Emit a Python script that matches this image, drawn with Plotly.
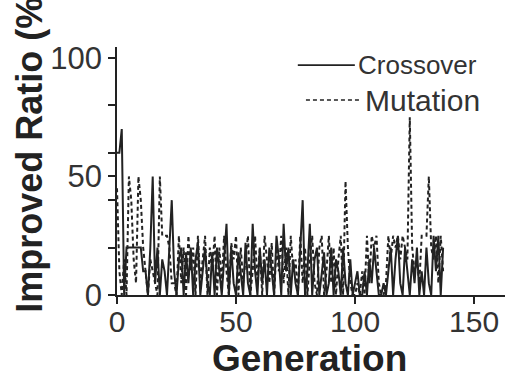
import plotly.graph_objects as go

generations = list(range(138))

crossover = [
    60, 60, 70, 0, 20, 20, 20, 20, 20, 20,
    20, 10, 10, 0, 20, 50, 5, 20, 0, 15,
    10, 0, 20, 40, 10, 0, 15, 20, 0, 18,
    5, 20, 0, 15, 22, 0, 10, 20, 5, 0,
    18, 0, 20, 10, 0, 15, 30, 0, 20, 5,
    0, 18, 10, 0, 22, 5, 0, 30, 10, 0,
    20, 5, 15, 0, 20, 10, 0, 25, 15, 0,
    30, 10, 20, 0, 15, 5, 0, 20, 40, 0,
    10, 30, 0, 15, 20, 0, 10, 18, 0, 5,
    20, 0, 15, 10, 0, 20, 5, 0, 15, 0,
    5, 10, 0, 0, 10, 0, 15, 5, 20, 10,
    0, 0, 5, 0, 10, 20, 0, 15, 25, 5,
    0, 20, 10, 0, 15, 5, 20, 0, 10, 0,
    20, 5, 0, 25, 10, 25, 0, 20,
]

mutation = [
    45, 10, 0, 15, 0, 50, 40, 15, 5, 50,
    40, 20, 10, 0, 15, 10, 5, 0, 50, 25,
    25, 25, 20, 5, 5, 0, 25, 5, 20, 0,
    25, 10, 20, 0, 25, 5, 15, 25, 0, 20,
    10, 25, 0, 20, 5, 25, 10, 0, 22, 15,
    25, 0, 20, 5, 15, 25, 0, 10, 25, 5,
    20, 0, 25, 15, 5, 22, 0, 20, 10, 25,
    5, 20, 0, 25, 10, 15, 0, 25, 5, 20,
    0, 15, 25, 5, 0, 20, 25, 0, 10, 25,
    5, 20, 0, 15, 25, 0, 48, 20, 5, 0,
    0, 5, 0, 10, 0, 25, 5, 25, 20, 25,
    5, 0, 0, 5, 25, 15, 25, 20, 25, 15,
    25, 20, 15, 75, 20, 10, 15, 5, 25, 25,
    25, 50, 20, 15, 25, 5, 25, 10,
]

x_ticks = [0, 50, 100, 150]
y_ticks = [0, 20, 40, 50, 60, 80, 100]
y_ticktext = ["0", "", "", "50", "", "", "100"]

ink = "#222222"
FONT = "Liberation Sans, Arial, sans-serif"

fig = go.Figure()
fig.add_trace(go.Scatter(x=generations, y=mutation, mode="lines",
                         line=dict(color=ink, width=2, dash="4px,3px"),
                         name="Mutation", showlegend=False))
fig.add_trace(go.Scatter(x=generations, y=crossover, mode="lines",
                         line=dict(color=ink, width=2),
                         name="Crossover", showlegend=False))

fig.update_layout(
    width=506, height=380,
    margin=dict(l=117, r=1, t=47, b=85),
    paper_bgcolor="white", plot_bgcolor="white",
    font=dict(family=FONT, color="#333333"),
    xaxis=dict(range=[0, 163], tickvals=x_ticks, ticks="outside", ticklen=7,
               tickwidth=1.5, tickcolor=ink, showline=True, linecolor=ink,
               linewidth=1.5, showgrid=False, zeroline=False, automargin=False,
               ticklabelstandoff=-8,
               tickfont=dict(size=30, color="#333333")),
    yaxis=dict(range=[0, 104.6], tickvals=y_ticks, ticktext=y_ticktext,
               ticks="outside", ticklen=7, tickwidth=1.5, tickcolor=ink,
               showline=True, linecolor=ink, linewidth=1.5, showgrid=False,
               zeroline=False, automargin=False,
               tickfont=dict(size=31, color="#333333")),
)

# axis titles
fig.add_annotation(text="<b>Generation</b>", xref="paper", yref="paper",
                   x=0.495, y=-0.257, xanchor="center", yanchor="middle",
                   showarrow=False, font=dict(size=37, color=ink, family=FONT))
fig.add_annotation(text="<b>Improved Ratio (%)</b>", xref="paper", yref="paper",
                   x=-0.224, y=0.59, xanchor="center", yanchor="middle",
                   textangle=-90, showarrow=False,
                   font=dict(size=36, color=ink, family=FONT))

# legend
fig.add_shape(type="line", xref="paper", yref="paper", x0=0.466, x1=0.613,
              y0=0.927, y1=0.927, line=dict(color=ink, width=1.6))
fig.add_shape(type="line", xref="paper", yref="paper", x0=0.487, x1=0.631,
              y0=0.786, y1=0.786, line=dict(color=ink, width=1.6, dash="4px,3px"))
fig.add_annotation(text="Crossover", xref="paper", yref="paper", x=0.615, y=0.927,
                   xanchor="left", yanchor="middle", showarrow=False,
                   font=dict(size=26, color="#333333", family=FONT))
fig.add_annotation(text="Mutation", xref="paper", yref="paper", x=0.635, y=0.786,
                   xanchor="left", yanchor="middle", showarrow=False,
                   font=dict(size=30, color="#333333", family=FONT))

fig.write_html("out.html", config={"displayModeBar": False},
               post_script="document.body.style.margin='0';document.body.style.overflow='hidden';")
